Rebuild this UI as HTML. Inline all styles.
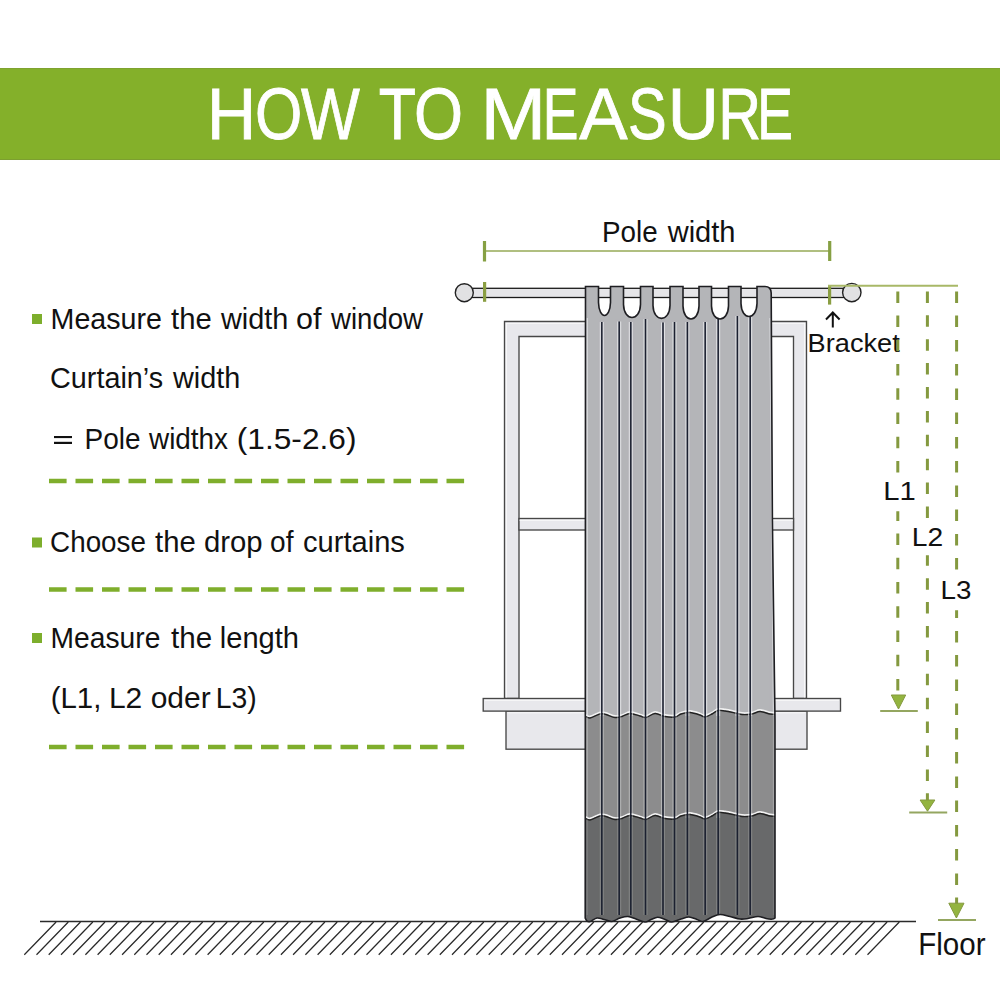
<!DOCTYPE html><html><head><meta charset="utf-8"><style>html,body{margin:0;padding:0;background:#fff;width:1000px;height:1000px;overflow:hidden}svg{position:absolute;left:0;top:0;display:block}text{font-family:"Liberation Sans",sans-serif}</style></head><body>
<svg width="1000" height="1000" viewBox="0 0 1000 1000">
<rect x="0" y="68" width="1000" height="92" fill="#84B02A"/>
<rect x="0" y="68" width="1000" height="1" fill="#7FA32F"/><rect x="0" y="159" width="1000" height="1" fill="#7C9F30"/>
<g><text transform="translate(206.88 139) scale(0.938 1)" font-size="72.5" fill="#fff" stroke="#fff" stroke-width="0.8" vector-effect="non-scaling-stroke">H</text><text transform="translate(254.98 139) scale(0.840 1)" font-size="72.5" fill="#fff" stroke="#fff" stroke-width="0.8" vector-effect="non-scaling-stroke">O</text><text transform="translate(301.00 139) scale(0.860 1)" font-size="72.5" fill="#fff" stroke="#fff" stroke-width="0.8" vector-effect="non-scaling-stroke">W</text><text transform="translate(378.82 139) scale(0.841 1)" font-size="72.5" fill="#fff" stroke="#fff" stroke-width="0.8" vector-effect="non-scaling-stroke">T</text><text transform="translate(413.89 139) scale(0.870 1)" font-size="72.5" fill="#fff" stroke="#fff" stroke-width="0.8" vector-effect="non-scaling-stroke">O</text><text transform="translate(480.48 139) scale(1.088 1)" font-size="72.5" fill="#fff" stroke="#fff" stroke-width="0.8" vector-effect="non-scaling-stroke">M</text><text transform="translate(542.77 139) scale(0.738 1)" font-size="72.5" fill="#fff" stroke="#fff" stroke-width="0.8" vector-effect="non-scaling-stroke">E</text><text transform="translate(579.20 139) scale(1.000 1)" font-size="72.5" fill="#fff" stroke="#fff" stroke-width="0.8" vector-effect="non-scaling-stroke">A</text><text transform="translate(628.00 139) scale(0.800 1)" font-size="72.5" fill="#fff" stroke="#fff" stroke-width="0.8" vector-effect="non-scaling-stroke">S</text><text transform="translate(667.75 139) scale(0.976 1)" font-size="72.5" fill="#fff" stroke="#fff" stroke-width="0.8" vector-effect="non-scaling-stroke">U</text><text transform="translate(718.29 139) scale(0.819 1)" font-size="72.5" fill="#fff" stroke="#fff" stroke-width="0.8" vector-effect="non-scaling-stroke">R</text><text transform="translate(757.17 139) scale(0.738 1)" font-size="72.5" fill="#fff" stroke="#fff" stroke-width="0.8" vector-effect="non-scaling-stroke">E</text></g>
<rect x="32" y="314" width="10" height="10" fill="#7DAE2C"/>
<rect x="32" y="537.5" width="10" height="10" fill="#7DAE2C"/>
<rect x="32" y="633" width="10" height="10" fill="#7DAE2C"/>
<text x="50.55" y="329.3" font-size="29.3" fill="#111" textLength="111.42" lengthAdjust="spacingAndGlyphs">Measure</text>
<text x="171.0" y="329.3" font-size="29.3" fill="#111" textLength="40.73" lengthAdjust="spacingAndGlyphs">the</text>
<text x="221.0" y="329.3" font-size="29.3" fill="#111" textLength="67.37" lengthAdjust="spacingAndGlyphs">width</text>
<text x="295.96" y="329.3" font-size="29.3" fill="#111" textLength="25.46" lengthAdjust="spacingAndGlyphs">of</text>
<text x="331.0" y="329.3" font-size="29.3" fill="#111" textLength="92.04" lengthAdjust="spacingAndGlyphs">window</text>
<text x="50.04" y="388.4" font-size="29.3" fill="#111" textLength="113.02" lengthAdjust="spacingAndGlyphs">Curtain’s</text>
<text x="173.0" y="388.4" font-size="29.3" fill="#111" textLength="67.37" lengthAdjust="spacingAndGlyphs">width</text>
<text x="84.59" y="448.5" font-size="29.3" fill="#111" textLength="55.98" lengthAdjust="spacingAndGlyphs">Pole</text>
<text x="149.0" y="448.5" font-size="29.3" fill="#111" textLength="79.04" lengthAdjust="spacingAndGlyphs">widthx</text>
<text x="236.84" y="448.5" font-size="29.3" fill="#111" textLength="119.63" lengthAdjust="spacingAndGlyphs">(1.5-2.6)</text>
<text x="50.1" y="551.9" font-size="29.3" fill="#111" textLength="95.83" lengthAdjust="spacingAndGlyphs">Choose</text>
<text x="155.0" y="551.9" font-size="29.3" fill="#111" textLength="40.73" lengthAdjust="spacingAndGlyphs">the</text>
<text x="204.0" y="551.9" font-size="29.3" fill="#111" textLength="58.64" lengthAdjust="spacingAndGlyphs">drop</text>
<text x="270.04" y="551.9" font-size="29.3" fill="#111" textLength="23.42" lengthAdjust="spacingAndGlyphs">of</text>
<text x="303.01" y="551.9" font-size="29.3" fill="#111" textLength="101.88" lengthAdjust="spacingAndGlyphs">curtains</text>
<text x="50.57" y="648.2" font-size="29.3" fill="#111" textLength="109.77" lengthAdjust="spacingAndGlyphs">Measure</text>
<text x="171.0" y="648.2" font-size="29.3" fill="#111" textLength="41.14" lengthAdjust="spacingAndGlyphs">the</text>
<text x="219.82" y="648.2" font-size="29.3" fill="#111" textLength="79.2" lengthAdjust="spacingAndGlyphs">length</text>
<text x="50.69" y="707.7" font-size="29.3" fill="#111" textLength="50.7" lengthAdjust="spacingAndGlyphs">(L1,</text>
<text x="108.95" y="707.7" font-size="29.3" fill="#111" textLength="33.38" lengthAdjust="spacingAndGlyphs">L2</text>
<text x="150.68" y="707.7" font-size="29.3" fill="#111" textLength="59.98" lengthAdjust="spacingAndGlyphs">oder</text>
<text x="215.76" y="707.7" font-size="29.3" fill="#111" textLength="41.04" lengthAdjust="spacingAndGlyphs">L3)</text>
<rect x="54" y="436" width="18" height="2.1" fill="#111"/><rect x="54" y="441.8" width="18" height="2.2" fill="#111"/>
<line x1="49" y1="481" x2="466" y2="481" stroke="#7FAE2C" stroke-width="4.3" stroke-dasharray="17.6 8.9"/>
<line x1="49" y1="589.5" x2="466" y2="589.5" stroke="#7FAE2C" stroke-width="4.3" stroke-dasharray="17.6 8.9"/>
<line x1="49" y1="747" x2="466" y2="747" stroke="#7FAE2C" stroke-width="4.3" stroke-dasharray="17.6 8.9"/>
<path d="M56.1 922L24.3 954.8 M68.3 922L36.5 954.8 M80.5 922L48.7 954.8 M92.8 922L61.0 954.8 M105.0 922L73.2 954.8 M117.2 922L85.4 954.8 M129.4 922L97.6 954.8 M141.6 922L109.8 954.8 M153.9 922L122.1 954.8 M166.1 922L134.3 954.8 M178.3 922L146.5 954.8 M190.5 922L158.7 954.8 M202.7 922L170.9 954.8 M215.0 922L183.2 954.8 M227.2 922L195.4 954.8 M239.4 922L207.6 954.8 M251.6 922L219.8 954.8 M263.8 922L232.0 954.8 M276.1 922L244.3 954.8 M288.3 922L256.5 954.8 M300.5 922L268.7 954.8 M312.7 922L280.9 954.8 M324.9 922L293.1 954.8 M337.2 922L305.4 954.8 M349.4 922L317.6 954.8 M361.6 922L329.8 954.8 M373.8 922L342.0 954.8 M386.0 922L354.2 954.8 M398.3 922L366.5 954.8 M410.5 922L378.7 954.8 M422.7 922L390.9 954.8 M434.9 922L403.1 954.8 M447.1 922L415.3 954.8 M459.4 922L427.6 954.8 M471.6 922L439.8 954.8 M483.8 922L452.0 954.8 M496.0 922L464.2 954.8 M508.2 922L476.4 954.8 M520.5 922L488.7 954.8 M532.7 922L500.9 954.8 M544.9 922L513.1 954.8 M557.1 922L525.3 954.8 M569.3 922L537.5 954.8 M581.6 922L549.8 954.8 M593.8 922L562.0 954.8 M606.0 922L574.2 954.8 M618.2 922L586.4 954.8 M630.4 922L598.6 954.8 M642.7 922L610.9 954.8 M654.9 922L623.1 954.8 M667.1 922L635.3 954.8 M679.3 922L647.5 954.8 M691.5 922L659.7 954.8 M703.8 922L672.0 954.8 M716.0 922L684.2 954.8 M728.2 922L696.4 954.8 M740.4 922L708.6 954.8 M752.6 922L720.8 954.8 M764.9 922L733.1 954.8 M777.1 922L745.3 954.8 M789.3 922L757.5 954.8 M801.5 922L769.7 954.8 M813.7 922L781.9 954.8 M826.0 922L794.2 954.8 M838.2 922L806.4 954.8 M850.4 922L818.6 954.8 M862.6 922L830.8 954.8 M874.8 922L843.0 954.8 M887.1 922L855.3 954.8 M899.3 922L867.5 954.8" stroke="#2a2a2a" stroke-width="1.25" fill="none"/>
<line x1="40" y1="921.5" x2="916" y2="921.5" stroke="#2a2a2a" stroke-width="1.3"/>
<g stroke="#474747" stroke-width="1.35" fill="#E8E8EC">
<path d="M504.5 698.5V321.5H806.5V698.5H793.5V336.5H519V698.5Z"/>
<rect x="519" y="518.5" width="274.5" height="11.5"/>
<rect x="506" y="711" width="301" height="38.2"/>
<rect x="483.2" y="698.5" width="357.3" height="12.6"/>
</g>
<path d="M506.4 323.4V697.5M505.8 323.3H805M804.6 323.4V697.5M519.5 520.3H793M484.8 700.3H839M507.5 712.8H805.5" stroke="#fff" stroke-width="1" opacity="0.75" fill="none"/>
<rect x="464" y="288.3" width="388" height="9.2" fill="#E5E5E8" stroke="#1A1A1A" stroke-width="1.3"/>
<circle cx="464.3" cy="292.7" r="9" fill="#E1E1E3" stroke="#222" stroke-width="1.4"/>
<circle cx="851.8" cy="292.6" r="9.2" fill="#E1E1E3" stroke="#222" stroke-width="1.4"/>
<defs><clipPath id="cc"><path d="M585.2 918 L585.5 286.5 L598.5 286.5 L598.5 302.5 C599.0 319.8 610.0 319.8 610.5 302.5 L610.5 286.5 L623.5 286.5 L623.5 304.5 C624.0 321.8 640.0 321.8 640.5 304.5 L640.5 286.5 L653 286.5 L653 305.4 C653.5 322.7 669.5 322.7 670 305.4 L670 286.5 L683 286.5 L683 306.0 C683.5 323.3 698.5 323.3 699 306.0 L699 286.5 L711.5 286.5 L711.5 306.0 C712.0 323.3 728.0 323.3 728.5 306.0 L728.5 286.5 L741 286.5 L741 303.5 C741.5 320.8 756.5 320.8 757 303.5 L757 286.5 L765 286.5 Q771 286.5 771.2 293 L772.4 520 L773.4 600 L775 720 L775 918 C773.5 919.8 768.8 919.1 766 918.5 C763.2 917.9 761.0 916.5 758 916.5 C755.0 916.5 751.0 918.1 748 918.5 C745.0 918.9 743.0 919.3 740 919 C737.0 918.7 733.3 917.2 730 916.5 C726.7 915.8 723.0 914.4 720 914.5 C717.0 914.6 714.8 915.8 712 917 C709.2 918.2 705.5 921.1 703 921.5 C700.5 921.9 699.3 920.2 697 919.5 C694.7 918.8 691.7 917.1 689 917 C686.3 916.9 683.9 918.2 681 919 C678.1 919.8 674.6 922.0 671.8 922 C669.0 922.0 666.4 919.8 664 919 C661.6 918.2 659.7 917.1 657.5 917.2 C655.3 917.3 653.1 918.7 651 919.5 C648.9 920.3 647.5 922.1 645 922 C642.5 921.9 638.8 919.9 636 919 C633.2 918.1 630.7 916.7 628 916.5 C625.3 916.3 622.7 917.2 620 918 C617.3 918.8 614.7 921.2 612 921.5 C609.3 921.8 606.5 920.1 604 919.5 C601.5 918.9 599.3 917.7 597 918 C594.7 918.3 591.7 921.0 590 921.5 C588.3 922.0 587.8 921.6 587 921 C586.2 920.4 585.5 918.5 585.2 918 Z"/></clipPath></defs>
<path d="M585.2 918 L585.5 286.5 L598.5 286.5 L598.5 302.5 C599.0 319.8 610.0 319.8 610.5 302.5 L610.5 286.5 L623.5 286.5 L623.5 304.5 C624.0 321.8 640.0 321.8 640.5 304.5 L640.5 286.5 L653 286.5 L653 305.4 C653.5 322.7 669.5 322.7 670 305.4 L670 286.5 L683 286.5 L683 306.0 C683.5 323.3 698.5 323.3 699 306.0 L699 286.5 L711.5 286.5 L711.5 306.0 C712.0 323.3 728.0 323.3 728.5 306.0 L728.5 286.5 L741 286.5 L741 303.5 C741.5 320.8 756.5 320.8 757 303.5 L757 286.5 L765 286.5 Q771 286.5 771.2 293 L772.4 520 L773.4 600 L775 720 L775 918 C773.5 919.8 768.8 919.1 766 918.5 C763.2 917.9 761.0 916.5 758 916.5 C755.0 916.5 751.0 918.1 748 918.5 C745.0 918.9 743.0 919.3 740 919 C737.0 918.7 733.3 917.2 730 916.5 C726.7 915.8 723.0 914.4 720 914.5 C717.0 914.6 714.8 915.8 712 917 C709.2 918.2 705.5 921.1 703 921.5 C700.5 921.9 699.3 920.2 697 919.5 C694.7 918.8 691.7 917.1 689 917 C686.3 916.9 683.9 918.2 681 919 C678.1 919.8 674.6 922.0 671.8 922 C669.0 922.0 666.4 919.8 664 919 C661.6 918.2 659.7 917.1 657.5 917.2 C655.3 917.3 653.1 918.7 651 919.5 C648.9 920.3 647.5 922.1 645 922 C642.5 921.9 638.8 919.9 636 919 C633.2 918.1 630.7 916.7 628 916.5 C625.3 916.3 622.7 917.2 620 918 C617.3 918.8 614.7 921.2 612 921.5 C609.3 921.8 606.5 920.1 604 919.5 C601.5 918.9 599.3 917.7 597 918 C594.7 918.3 591.7 921.0 590 921.5 C588.3 922.0 587.8 921.6 587 921 C586.2 920.4 585.5 918.5 585.2 918 Z" fill="#B4B5B8"/>
<g clip-path="url(#cc)">
<path d="M585 716 C585.8 716.3 587.5 718.3 590 718 C592.5 717.7 597.3 714.6 600 714 C602.7 713.4 603.5 713.9 606 714.5 C608.5 715.1 612.3 717.2 615 717.5 C617.7 717.8 619.5 717.2 622 716.5 C624.5 715.8 627.0 713.6 630 713.5 C633.0 713.4 637.3 715.3 640 716 C642.7 716.7 643.5 717.9 646 717.5 C648.5 717.1 651.8 713.7 655 713.5 C658.2 713.3 661.7 715.9 665 716.5 C668.3 717.1 672.3 717.4 675 717 C677.7 716.6 678.5 714.8 681 714 C683.5 713.2 686.8 712.3 690 712.5 C693.2 712.7 697.5 714.2 700 715 C702.5 715.8 703.0 717.2 705 717 C707.0 716.8 709.8 715.1 712 714 C714.2 712.9 715.8 711.0 718 710.5 C720.2 710.0 722.2 710.6 725 711 C727.8 711.4 732.2 712.4 735 713 C737.8 713.6 739.2 714.3 742 714.5 C744.8 714.7 749.0 714.5 752 714 C755.0 713.5 757.0 711.5 760 711.5 C763.0 711.5 767.3 713.5 770 714 C772.7 714.5 775.0 714.4 776 714.5 L780 1000 L580 1000Z" fill="#8C8C8D"/>
<path d="M585 716 C585.8 716.3 587.5 718.3 590 718 C592.5 717.7 597.3 714.6 600 714 C602.7 713.4 603.5 713.9 606 714.5 C608.5 715.1 612.3 717.2 615 717.5 C617.7 717.8 619.5 717.2 622 716.5 C624.5 715.8 627.0 713.6 630 713.5 C633.0 713.4 637.3 715.3 640 716 C642.7 716.7 643.5 717.9 646 717.5 C648.5 717.1 651.8 713.7 655 713.5 C658.2 713.3 661.7 715.9 665 716.5 C668.3 717.1 672.3 717.4 675 717 C677.7 716.6 678.5 714.8 681 714 C683.5 713.2 686.8 712.3 690 712.5 C693.2 712.7 697.5 714.2 700 715 C702.5 715.8 703.0 717.2 705 717 C707.0 716.8 709.8 715.1 712 714 C714.2 712.9 715.8 711.0 718 710.5 C720.2 710.0 722.2 710.6 725 711 C727.8 711.4 732.2 712.4 735 713 C737.8 713.6 739.2 714.3 742 714.5 C744.8 714.7 749.0 714.5 752 714 C755.0 713.5 757.0 711.5 760 711.5 C763.0 711.5 767.3 713.5 770 714 C772.7 714.5 775.0 714.4 776 714.5 L780 1000 L580 1000Z" fill="#68696A" transform="translate(0 102)"/>
<path d="M585 716 C585.8 716.3 587.5 718.3 590 718 C592.5 717.7 597.3 714.6 600 714 C602.7 713.4 603.5 713.9 606 714.5 C608.5 715.1 612.3 717.2 615 717.5 C617.7 717.8 619.5 717.2 622 716.5 C624.5 715.8 627.0 713.6 630 713.5 C633.0 713.4 637.3 715.3 640 716 C642.7 716.7 643.5 717.9 646 717.5 C648.5 717.1 651.8 713.7 655 713.5 C658.2 713.3 661.7 715.9 665 716.5 C668.3 717.1 672.3 717.4 675 717 C677.7 716.6 678.5 714.8 681 714 C683.5 713.2 686.8 712.3 690 712.5 C693.2 712.7 697.5 714.2 700 715 C702.5 715.8 703.0 717.2 705 717 C707.0 716.8 709.8 715.1 712 714 C714.2 712.9 715.8 711.0 718 710.5 C720.2 710.0 722.2 710.6 725 711 C727.8 711.4 732.2 712.4 735 713 C737.8 713.6 739.2 714.3 742 714.5 C744.8 714.7 749.0 714.5 752 714 C755.0 713.5 757.0 711.5 760 711.5 C763.0 711.5 767.3 713.5 770 714 C772.7 714.5 775.0 714.4 776 714.5" fill="none" stroke="#F2F2F2" stroke-width="1.6" transform="translate(0 -1.6)"/>
<path d="M585 716 C585.8 716.3 587.5 718.3 590 718 C592.5 717.7 597.3 714.6 600 714 C602.7 713.4 603.5 713.9 606 714.5 C608.5 715.1 612.3 717.2 615 717.5 C617.7 717.8 619.5 717.2 622 716.5 C624.5 715.8 627.0 713.6 630 713.5 C633.0 713.4 637.3 715.3 640 716 C642.7 716.7 643.5 717.9 646 717.5 C648.5 717.1 651.8 713.7 655 713.5 C658.2 713.3 661.7 715.9 665 716.5 C668.3 717.1 672.3 717.4 675 717 C677.7 716.6 678.5 714.8 681 714 C683.5 713.2 686.8 712.3 690 712.5 C693.2 712.7 697.5 714.2 700 715 C702.5 715.8 703.0 717.2 705 717 C707.0 716.8 709.8 715.1 712 714 C714.2 712.9 715.8 711.0 718 710.5 C720.2 710.0 722.2 710.6 725 711 C727.8 711.4 732.2 712.4 735 713 C737.8 713.6 739.2 714.3 742 714.5 C744.8 714.7 749.0 714.5 752 714 C755.0 713.5 757.0 711.5 760 711.5 C763.0 711.5 767.3 713.5 770 714 C772.7 714.5 775.0 714.4 776 714.5" fill="none" stroke="#F2F2F2" stroke-width="1.6" transform="translate(0 100.4)"/>
<path d="M585 716 C585.8 716.3 587.5 718.3 590 718 C592.5 717.7 597.3 714.6 600 714 C602.7 713.4 603.5 713.9 606 714.5 C608.5 715.1 612.3 717.2 615 717.5 C617.7 717.8 619.5 717.2 622 716.5 C624.5 715.8 627.0 713.6 630 713.5 C633.0 713.4 637.3 715.3 640 716 C642.7 716.7 643.5 717.9 646 717.5 C648.5 717.1 651.8 713.7 655 713.5 C658.2 713.3 661.7 715.9 665 716.5 C668.3 717.1 672.3 717.4 675 717 C677.7 716.6 678.5 714.8 681 714 C683.5 713.2 686.8 712.3 690 712.5 C693.2 712.7 697.5 714.2 700 715 C702.5 715.8 703.0 717.2 705 717 C707.0 716.8 709.8 715.1 712 714 C714.2 712.9 715.8 711.0 718 710.5 C720.2 710.0 722.2 710.6 725 711 C727.8 711.4 732.2 712.4 735 713 C737.8 713.6 739.2 714.3 742 714.5 C744.8 714.7 749.0 714.5 752 714 C755.0 713.5 757.0 711.5 760 711.5 C763.0 711.5 767.3 713.5 770 714 C772.7 714.5 775.0 714.4 776 714.5" fill="none" stroke="#222" stroke-width="1.4"/>
<path d="M585 716 C585.8 716.3 587.5 718.3 590 718 C592.5 717.7 597.3 714.6 600 714 C602.7 713.4 603.5 713.9 606 714.5 C608.5 715.1 612.3 717.2 615 717.5 C617.7 717.8 619.5 717.2 622 716.5 C624.5 715.8 627.0 713.6 630 713.5 C633.0 713.4 637.3 715.3 640 716 C642.7 716.7 643.5 717.9 646 717.5 C648.5 717.1 651.8 713.7 655 713.5 C658.2 713.3 661.7 715.9 665 716.5 C668.3 717.1 672.3 717.4 675 717 C677.7 716.6 678.5 714.8 681 714 C683.5 713.2 686.8 712.3 690 712.5 C693.2 712.7 697.5 714.2 700 715 C702.5 715.8 703.0 717.2 705 717 C707.0 716.8 709.8 715.1 712 714 C714.2 712.9 715.8 711.0 718 710.5 C720.2 710.0 722.2 710.6 725 711 C727.8 711.4 732.2 712.4 735 713 C737.8 713.6 739.2 714.3 742 714.5 C744.8 714.7 749.0 714.5 752 714 C755.0 713.5 757.0 711.5 760 711.5 C763.0 711.5 767.3 713.5 770 714 C772.7 714.5 775.0 714.4 776 714.5" fill="none" stroke="#222" stroke-width="1.4" transform="translate(0 102)"/>
<path d="M603.3 322V716M600.3 322V716" stroke="#F0F2F4" stroke-width="1" opacity="0.75"/>
<path d="M603.3 716V818M600.3 716V818" stroke="#F0F2F4" stroke-width="1" opacity="0.4"/>
<path d="M603.3 818V915M600.3 818V915" stroke="#F0F2F4" stroke-width="1" opacity="0.2"/>
<line x1="601.8" y1="322" x2="601.8" y2="915" stroke="#1B2030" stroke-width="1.5"/>
<path d="M620.7 321.5V716M617.7 321.5V716" stroke="#F0F2F4" stroke-width="1" opacity="0.75"/>
<path d="M620.7 716V818M617.7 716V818" stroke="#F0F2F4" stroke-width="1" opacity="0.4"/>
<path d="M620.7 818V915M617.7 818V915" stroke="#F0F2F4" stroke-width="1" opacity="0.2"/>
<line x1="619.2" y1="321.5" x2="619.2" y2="915" stroke="#1B2030" stroke-width="1.5"/>
<path d="M632.3 322V716M629.3 322V716" stroke="#F0F2F4" stroke-width="1" opacity="0.75"/>
<path d="M632.3 716V818M629.3 716V818" stroke="#F0F2F4" stroke-width="1" opacity="0.4"/>
<path d="M632.3 818V915M629.3 818V915" stroke="#F0F2F4" stroke-width="1" opacity="0.2"/>
<line x1="630.8" y1="322" x2="630.8" y2="915" stroke="#1B2030" stroke-width="1.5"/>
<path d="M647.0 319V716M644.0 319V716" stroke="#F0F2F4" stroke-width="1" opacity="0.75"/>
<path d="M647.0 716V818M644.0 716V818" stroke="#F0F2F4" stroke-width="1" opacity="0.4"/>
<path d="M647.0 818V915M644.0 818V915" stroke="#F0F2F4" stroke-width="1" opacity="0.2"/>
<line x1="645.5" y1="319" x2="645.5" y2="915" stroke="#1B2030" stroke-width="1.5"/>
<path d="M664.5 322.5V716M661.5 322.5V716" stroke="#F0F2F4" stroke-width="1" opacity="0.75"/>
<path d="M664.5 716V818M661.5 716V818" stroke="#F0F2F4" stroke-width="1" opacity="0.4"/>
<path d="M664.5 818V915M661.5 818V915" stroke="#F0F2F4" stroke-width="1" opacity="0.2"/>
<line x1="663" y1="322.5" x2="663" y2="915" stroke="#1B2030" stroke-width="1.5"/>
<path d="M676.0 322V716M673.0 322V716" stroke="#F0F2F4" stroke-width="1" opacity="0.75"/>
<path d="M676.0 716V818M673.0 716V818" stroke="#F0F2F4" stroke-width="1" opacity="0.4"/>
<path d="M676.0 818V915M673.0 818V915" stroke="#F0F2F4" stroke-width="1" opacity="0.2"/>
<line x1="674.5" y1="322" x2="674.5" y2="915" stroke="#1B2030" stroke-width="1.5"/>
<path d="M688.9 322V716M685.9 322V716" stroke="#F0F2F4" stroke-width="1" opacity="0.75"/>
<path d="M688.9 716V818M685.9 716V818" stroke="#F0F2F4" stroke-width="1" opacity="0.4"/>
<path d="M688.9 818V915M685.9 818V915" stroke="#F0F2F4" stroke-width="1" opacity="0.2"/>
<line x1="687.4" y1="322" x2="687.4" y2="915" stroke="#1B2030" stroke-width="1.5"/>
<path d="M706.7 322V716M703.7 322V716" stroke="#F0F2F4" stroke-width="1" opacity="0.75"/>
<path d="M706.7 716V818M703.7 716V818" stroke="#F0F2F4" stroke-width="1" opacity="0.4"/>
<path d="M706.7 818V915M703.7 818V915" stroke="#F0F2F4" stroke-width="1" opacity="0.2"/>
<line x1="705.2" y1="322" x2="705.2" y2="915" stroke="#1B2030" stroke-width="1.5"/>
<path d="M719.7 319V716M716.7 319V716" stroke="#F0F2F4" stroke-width="1" opacity="0.75"/>
<path d="M719.7 716V818M716.7 716V818" stroke="#F0F2F4" stroke-width="1" opacity="0.4"/>
<path d="M719.7 818V915M716.7 818V915" stroke="#F0F2F4" stroke-width="1" opacity="0.2"/>
<line x1="718.2" y1="319" x2="718.2" y2="915" stroke="#1B2030" stroke-width="1.5"/>
<path d="M738.9 316V716M735.9 316V716" stroke="#F0F2F4" stroke-width="1" opacity="0.75"/>
<path d="M738.9 716V818M735.9 716V818" stroke="#F0F2F4" stroke-width="1" opacity="0.4"/>
<path d="M738.9 818V915M735.9 818V915" stroke="#F0F2F4" stroke-width="1" opacity="0.2"/>
<line x1="737.4" y1="316" x2="737.4" y2="915" stroke="#1B2030" stroke-width="1.5"/>
<path d="M751.7 317V716M748.7 317V716" stroke="#F0F2F4" stroke-width="1" opacity="0.75"/>
<path d="M751.7 716V818M748.7 716V818" stroke="#F0F2F4" stroke-width="1" opacity="0.4"/>
<path d="M751.7 818V915M748.7 818V915" stroke="#F0F2F4" stroke-width="1" opacity="0.2"/>
<line x1="750.2" y1="317" x2="750.2" y2="915" stroke="#1B2030" stroke-width="1.5"/>
<path d="M587.2 318V716" stroke="#F0F2F4" stroke-width="1.2" opacity="0.7"/>
<path d="M769.8 318L773.4 716" stroke="#F0F2F4" stroke-width="1" opacity="0.56"/>
<path d="M587.2 716V818" stroke="#F0F2F4" stroke-width="1.2" opacity="0.35"/>
<path d="M773.4 716L773.4 818" stroke="#F0F2F4" stroke-width="1" opacity="0.28"/>
<path d="M587.2 818V915" stroke="#F0F2F4" stroke-width="1.2" opacity="0.15"/>
<path d="M773.4 818L773.4 915" stroke="#F0F2F4" stroke-width="1" opacity="0.12"/>
</g>
<path d="M585.2 918 L585.5 286.5 L598.5 286.5 L598.5 302.5 C599.0 319.8 610.0 319.8 610.5 302.5 L610.5 286.5 L623.5 286.5 L623.5 304.5 C624.0 321.8 640.0 321.8 640.5 304.5 L640.5 286.5 L653 286.5 L653 305.4 C653.5 322.7 669.5 322.7 670 305.4 L670 286.5 L683 286.5 L683 306.0 C683.5 323.3 698.5 323.3 699 306.0 L699 286.5 L711.5 286.5 L711.5 306.0 C712.0 323.3 728.0 323.3 728.5 306.0 L728.5 286.5 L741 286.5 L741 303.5 C741.5 320.8 756.5 320.8 757 303.5 L757 286.5 L765 286.5 Q771 286.5 771.2 293 L772.4 520 L773.4 600 L775 720 L775 918 C773.5 919.8 768.8 919.1 766 918.5 C763.2 917.9 761.0 916.5 758 916.5 C755.0 916.5 751.0 918.1 748 918.5 C745.0 918.9 743.0 919.3 740 919 C737.0 918.7 733.3 917.2 730 916.5 C726.7 915.8 723.0 914.4 720 914.5 C717.0 914.6 714.8 915.8 712 917 C709.2 918.2 705.5 921.1 703 921.5 C700.5 921.9 699.3 920.2 697 919.5 C694.7 918.8 691.7 917.1 689 917 C686.3 916.9 683.9 918.2 681 919 C678.1 919.8 674.6 922.0 671.8 922 C669.0 922.0 666.4 919.8 664 919 C661.6 918.2 659.7 917.1 657.5 917.2 C655.3 917.3 653.1 918.7 651 919.5 C648.9 920.3 647.5 922.1 645 922 C642.5 921.9 638.8 919.9 636 919 C633.2 918.1 630.7 916.7 628 916.5 C625.3 916.3 622.7 917.2 620 918 C617.3 918.8 614.7 921.2 612 921.5 C609.3 921.8 606.5 920.1 604 919.5 C601.5 918.9 599.3 917.7 597 918 C594.7 918.3 591.7 921.0 590 921.5 C588.3 922.0 587.8 921.6 587 921 C586.2 920.4 585.5 918.5 585.2 918 Z" fill="none" stroke="#1E1E22" stroke-width="1.6"/>
<line x1="484.5" y1="251" x2="829.7" y2="251" stroke="#B0BF80" stroke-width="2"/>
<line x1="484.5" y1="241" x2="484.5" y2="261.5" stroke="#86A043" stroke-width="3.2"/>
<line x1="829.7" y1="241" x2="829.7" y2="261" stroke="#86A043" stroke-width="3.2"/>
<line x1="484.6" y1="282" x2="484.6" y2="301.8" stroke="#8A9E42" stroke-width="3.2"/>
<line x1="829.6" y1="285.4" x2="829.6" y2="304.6" stroke="#8A9E42" stroke-width="3.2"/>
<line x1="828" y1="285.8" x2="958" y2="285.8" stroke="#A8B867" stroke-width="2"/>
<path d="M832.8 327.5V312.5M826 319.5L832.8 312.5L839.6 319.5" fill="none" stroke="#111" stroke-width="2"/>
<text x="807.6" y="352" font-size="26.2" fill="#111" textLength="92.2" lengthAdjust="spacingAndGlyphs">Bracket</text>
<text x="602.06" y="241.9" font-size="28.6" fill="#111" textLength="55.64" lengthAdjust="spacingAndGlyphs">Pole</text><text x="667.7" y="241.9" font-size="28.6" fill="#111" textLength="67.79" lengthAdjust="spacingAndGlyphs">width</text>
<path d="M897.8 291.4V302.9 M897.8 315.6V327.1 M897.8 339.8V351.3 M897.8 364.1V375.6 M897.8 388.3V399.8 M897.8 412.5V424.0 M897.8 436.7V448.2 M897.8 460.9V472.4 M897.8 511.2V520.9 M897.8 533.6V545.1 M897.8 557.8V569.3 M897.8 582.0V593.5 M897.8 606.3V617.8 M897.8 630.5V642.0 M897.8 654.7V666.2 M897.8 678.9V690.4" stroke="#84993F" stroke-width="3" fill="none"/>
<path d="M927.4 291.4V302.9 M927.4 315.3V326.8 M927.4 339.2V350.7 M927.4 363.1V374.6 M927.4 387.0V398.5 M927.4 410.9V422.4 M927.4 434.8V446.3 M927.4 458.7V470.2 M927.4 482.6V494.1 M927.4 506.5V518.0 M927.4 555.2V565.8 M927.4 578.2V589.7 M927.4 602.1V613.6 M927.4 626.0V637.5 M927.4 649.9V661.4 M927.4 673.8V685.3 M927.4 697.7V709.2 M927.4 721.6V733.1 M927.4 745.5V757.0 M927.4 769.4V780.9 M927.4 793.3V801.0" stroke="#84993F" stroke-width="3" fill="none"/>
<path d="M956.6 291.4V302.9 M956.6 315.6V327.1 M956.6 339.9V351.4 M956.6 364.1V375.6 M956.6 388.4V399.9 M956.6 412.6V424.1 M956.6 436.9V448.4 M956.6 461.1V472.6 M956.6 485.4V496.9 M956.6 509.6V521.1 M956.6 533.9V545.4 M956.6 558.1V569.6 M956.6 610.2V618.1 M956.6 630.9V642.4 M956.6 655.1V666.6 M956.6 679.4V690.9 M956.6 703.6V715.1 M956.6 727.9V739.4 M956.6 752.1V763.6 M956.6 776.4V787.9 M956.6 800.6V812.1 M956.6 824.9V836.4 M956.6 849.1V860.6 M956.6 873.4V884.9 M956.6 897.6V904.2" stroke="#84993F" stroke-width="3" fill="none"/>
<text x="883.3" y="500" font-size="26.7" fill="#111" textLength="32.5" lengthAdjust="spacingAndGlyphs">L1</text>
<text x="911.8" y="546" font-size="26.7" fill="#111" textLength="31.4" lengthAdjust="spacingAndGlyphs">L2</text>
<text x="940.6" y="599" font-size="26.7" fill="#111" textLength="30.9" lengthAdjust="spacingAndGlyphs">L3</text>
<line x1="880.2" y1="710.9" x2="917.8" y2="710.9" stroke="#94A660" stroke-width="2"/>
<path d="M891.3 695L905.7 695L898.5 709Z" fill="#93B43F" stroke="#84993F" stroke-width="1" stroke-linejoin="round"/>
<line x1="909.2" y1="812.5" x2="947.2" y2="812.5" stroke="#94A660" stroke-width="2"/>
<path d="M920.1 800L934.9 800L927.5 811.2Z" fill="#93B43F" stroke="#84993F" stroke-width="1" stroke-linejoin="round"/>
<line x1="938" y1="920" x2="976" y2="920" stroke="#94A660" stroke-width="2"/>
<path d="M948.8 903.2L964.0 903.2L956.4 918Z" fill="#93B43F" stroke="#84993F" stroke-width="1" stroke-linejoin="round"/>
<text x="918.19" y="954.9" font-size="31.5" fill="#111" textLength="67.29" lengthAdjust="spacingAndGlyphs">Floor</text>
</svg></body></html>
